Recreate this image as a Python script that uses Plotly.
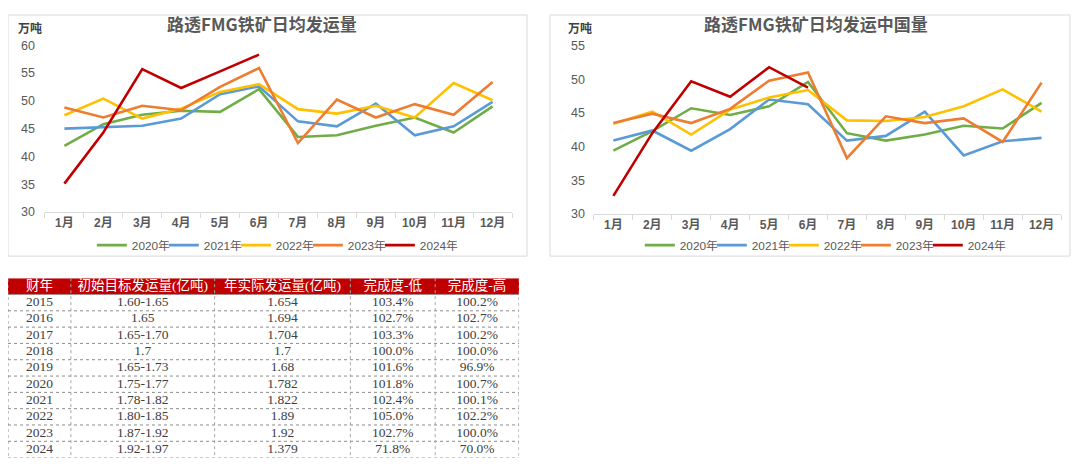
import plotly.graph_objects as go

# page keeps the browser's default 8px body margin; figure sized to fit the window
W, H = 1064, 457
PAD = 8
VS, VOFF = 0.967, 16  # vertical mapping observed for the photographed page

months = ["1月", "2月", "3月", "4月", "5月", "6月", "7月", "8月", "9月", "10月", "11月", "12月"]
years = ["2020年", "2021年", "2022年", "2023年", "2024年"]
colors = ["#70AD47", "#5B9BD5", "#FFC000", "#ED7D31", "#C00000"]

# 路透FMG铁矿日均发运量 (万吨)
total_2020 = [41.9, 45.8, 47.5, 48.2, 48.0, 52.1, 43.5, 43.8, 45.5, 47.0, 44.3, 49.0]
total_2021 = [45.0, 45.2, 45.5, 46.8, 51.2, 52.6, 46.3, 45.4, 49.5, 43.8, 45.4, 49.8]
total_2022 = [47.4, 50.4, 46.8, 48.6, 51.6, 53.0, 48.5, 47.7, 49.1, 47.0, 53.2, 50.1]
total_2023 = [48.8, 47.0, 49.1, 48.3, 52.5, 55.9, 42.4, 50.2, 47.0, 49.4, 47.5, 53.4]
total_2024 = [35.1, 44.3, 55.7, 52.3, 55.3, 58.3]

# 路透FMG铁矿日均发运中国量 (万吨)
china_2020 = [39.4, 42.3, 45.7, 44.7, 46.0, 49.6, 42.0, 40.9, 41.8, 43.1, 42.7, 46.5]
china_2021 = [40.9, 42.4, 39.4, 42.6, 47.0, 46.3, 40.9, 41.6, 45.2, 38.7, 40.8, 41.3]
china_2022 = [43.4, 45.2, 41.8, 45.5, 47.3, 48.4, 43.9, 43.8, 44.4, 46.0, 48.5, 45.2]
china_2023 = [43.5, 44.9, 43.5, 45.6, 49.8, 51.0, 38.3, 44.5, 43.5, 44.2, 40.7, 49.5]
china_2024 = [32.7, 42.0, 49.7, 47.4, 51.8, 48.75]

# table
tbl_header = ["财年", "初始目标发运量(亿吨)", "年实际发运量(亿吨)", "完成度-低", "完成度-高"]
fy_years = ["2015", "2016", "2017", "2018", "2019", "2020", "2021", "2022", "2023", "2024"]
target_range = ["1.60-1.65", "1.65", "1.65-1.70", "1.7", "1.65-1.73", "1.75-1.77",
                "1.78-1.82", "1.80-1.85", "1.87-1.92", "1.92-1.97"]
actual_vol = ["1.654", "1.694", "1.704", "1.7", "1.68", "1.782", "1.822", "1.89", "1.92", "1.379"]
comp_low = ["103.4%", "102.7%", "103.3%", "100.0%", "101.6%", "101.8%", "102.4%", "105.0%", "102.7%", "71.8%"]
comp_high = ["100.2%", "102.7%", "100.2%", "100.0%", "96.9%", "100.7%", "100.1%", "102.2%", "100.0%", "70.0%"]

total_series = [total_2020, total_2021, total_2022, total_2023, total_2024]
china_series = [china_2020, china_2021, china_2022, china_2023, china_2024]
table_columns = [fy_years, target_range, actual_vol, comp_low, comp_high]

FONT = "Liberation Sans, Noto Sans CJK SC, sans-serif"
SERIF = "Liberation Serif, Noto Sans CJK SC, serif"
GRAY = "#595959"

def px(x):
    return min(1.0, max(0.0, (x - PAD) / W))

def py(y):
    d = y / VS - VOFF
    return min(1.0, max(0.0, 1 - d / H))

fig = go.Figure()

for i, (yr, col) in enumerate(zip(years, colors)):
    s = total_series[i]
    fig.add_trace(go.Scatter(x=months[:len(s)], y=s, mode="lines", name=yr,
                             line=dict(color=col, width=2.6), xaxis="x", yaxis="y",
                             legend="legend", hoverinfo="skip"))
for i, (yr, col) in enumerate(zip(years, colors)):
    s = china_series[i]
    fig.add_trace(go.Scatter(x=months[:len(s)], y=s, mode="lines", name=yr,
                             line=dict(color=col, width=2.6), xaxis="x2", yaxis="y2",
                             legend="legend2", hoverinfo="skip"))
for lg, xa, ya in (("legend", "x", "y"), ("legend2", "x2", "y2")):
    fig.add_trace(go.Scatter(x=[None], y=[None], mode="lines", name=" ",
                             line=dict(color="rgba(0,0,0,0)", width=0), xaxis=xa, yaxis=ya,
                             legend=lg, hoverinfo="skip"))

# ---- table drawn on its own hidden axes (column units, row units) ----
col_w = [63, 144, 136, 85, 84]
edges = [0]
for w in col_w:
    edges.append(edges[-1] + w)
centers = [(edges[k] + edges[k + 1]) / 2 for k in range(len(col_w))]
n_rows = len(fy_years) + 1

fig.add_trace(go.Scatter(x=centers, y=[0.5] * len(centers), mode="text", text=tbl_header,
                         textposition="middle center", showlegend=False, hoverinfo="skip",
                         textfont=dict(color="white", size=13.5, family=SERIF),
                         xaxis="x3", yaxis="y3"))
for k, colvals in enumerate(table_columns):
    fig.add_trace(go.Scatter(x=[centers[k]] * len(colvals),
                             y=[r + 1.5 for r in range(len(colvals))],
                             mode="text", text=colvals, textposition="middle center",
                             showlegend=False, hoverinfo="skip",
                             textfont=dict(color="#404040", size=13.5, family=SERIF),
                             xaxis="x3", yaxis="y3"))

shapes = [
    dict(type="rect", xref="paper", yref="paper", x0=0, x1=px(528), y0=py(256), y1=1,
         line=dict(color="#D9D9D9", width=1), layer="below"),
    dict(type="rect", xref="paper", yref="paper", x0=px(551), x1=1, y0=py(256), y1=1,
         line=dict(color="#D9D9D9", width=1), layer="below"),
    dict(type="rect", xref="x3", yref="y3", x0=0, x1=edges[-1], y0=0, y1=1,
         fillcolor="#C00000", line=dict(width=0), layer="below"),
]
for r in range(1, n_rows + 1):
    shapes.append(dict(type="line", xref="x3", yref="y3", x0=0, x1=edges[-1], y0=r, y1=r,
                       line=dict(color="#8C8C8C", width=1, dash="dot"), layer="above"))
for e in edges:
    shapes.append(dict(type="line", xref="x3", yref="y3", x0=e, x1=e, y0=0.05 if e in (0, edges[-1]) else 0,
                       y1=n_rows, line=dict(color="#8C8C8C" if e in (0, edges[-1]) else "#A6A6A6",
                                            width=1, dash="dot"), layer="above"))

xcommon = dict(type="category", categoryorder="array", categoryarray=months,
               range=[-0.5, 11.5],
               showline=True, linecolor="#D9D9D9", linewidth=1,
               ticks="outside", tickson="boundaries", ticklen=5, tickcolor="#D9D9D9",
               showgrid=False, zeroline=False,
               tickfont=dict(size=12, color=GRAY, family=FONT, weight="bold"),
               fixedrange=True)
ycommon = dict(showgrid=False, zeroline=False, showline=False, dtick=5,
               tickfont=dict(size=12.5, color=GRAY, family=FONT), ticks="",
               fixedrange=True)

legcommon = dict(orientation="h", xanchor="left", yanchor="middle", y=py(245),
                 font=dict(size=11.8, color=GRAY, family=FONT), itemwidth=30, entrywidth=27,
                 bgcolor="rgba(0,0,0,0)", itemclick=False, itemdoubleclick=False)

fig.update_layout(
    width=W, height=H,
    margin=dict(l=0, r=0, t=0, b=0),
    paper_bgcolor="white", plot_bgcolor="white",
    font=dict(family=FONT, color=GRAY),
    xaxis=dict(domain=[px(45), px(513)], anchor="y", **xcommon),
    yaxis=dict(domain=[py(212), py(45.6)], range=[30, 60], anchor="x",
               ticklabelstandoff=9, **ycommon),
    xaxis2=dict(domain=[px(595), px(1063)], anchor="y2", **xcommon),
    yaxis2=dict(domain=[py(214), py(46)], range=[30, 55], anchor="x2",
                ticklabelstandoff=8, **ycommon),
    xaxis3=dict(domain=[px(3), px(520)], range=[0, edges[-1]], visible=False,
                fixedrange=True, anchor="y3"),
    yaxis3=dict(domain=[py(457), py(278)], range=[n_rows, 0], visible=False,
                fixedrange=True, anchor="x3"),
    legend=dict(x=px(92), **legcommon),
    legend2=dict(x=px(641), **legcommon),
    shapes=shapes,
    annotations=[
        dict(text="路透FMG铁矿日均发运量", x=px(262), y=1 - 9 / H, xref="paper", yref="paper",
             showarrow=False, font=dict(size=17, color=GRAY, family="Noto Sans CJK SC", weight="bold"),
             xanchor="center", yanchor="middle"),
        dict(text="路透FMG铁矿日均发运中国量", x=px(818), y=1 - 9 / H, xref="paper", yref="paper",
             showarrow=False, font=dict(size=17, color=GRAY, family="Noto Sans CJK SC", weight="bold"),
             xanchor="center", yanchor="middle"),
        dict(text="万吨", x=px(30), y=py(28), xref="paper", yref="paper", showarrow=False,
             font=dict(size=12, color="#404040", family="Noto Sans CJK SC", weight="bold"),
             xanchor="center", yanchor="middle"),
        dict(text="万吨", x=px(581), y=py(28), xref="paper", yref="paper", showarrow=False,
             font=dict(size=12, color="#404040", family="Noto Sans CJK SC", weight="bold"),
             xanchor="center", yanchor="middle"),
    ],
)

fig.write_html("out.html", config={"displayModeBar": False})
